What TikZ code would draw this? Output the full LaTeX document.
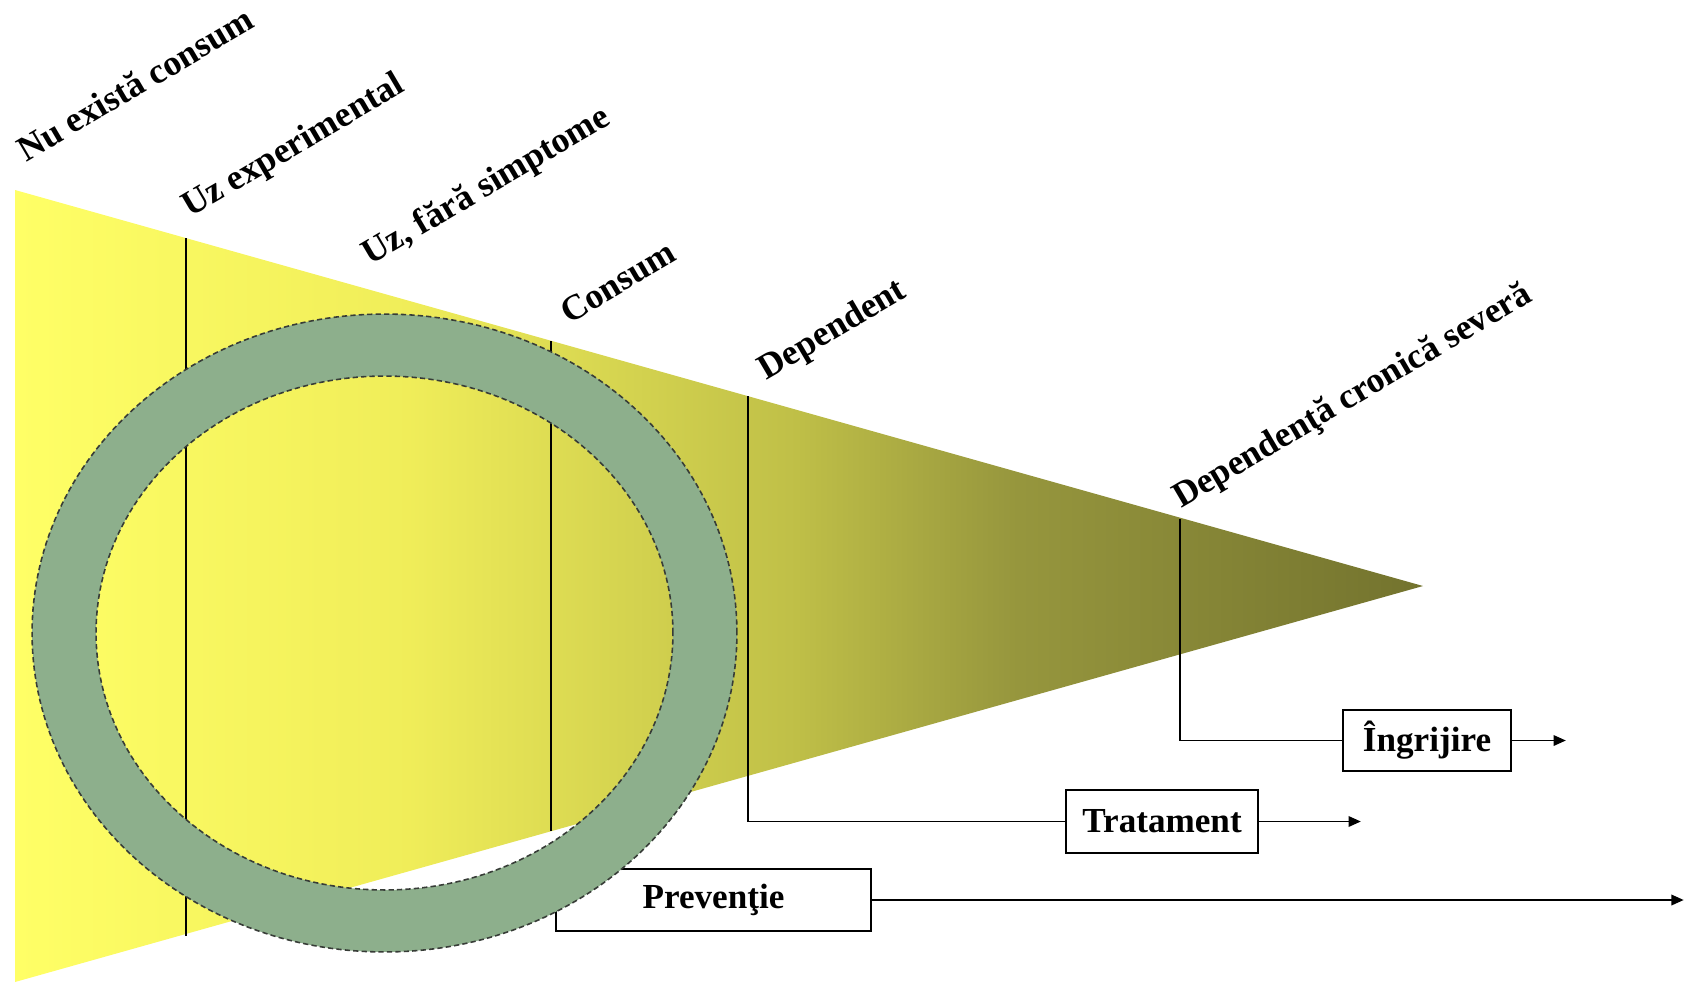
\documentclass[tikz,border=0pt]{standalone}
\usepackage{fontspec}
\setmainfont{Liberation Serif}
\usetikzlibrary{arrows.meta,positioning}

\definecolor{ringgreen}{RGB}{141,175,140}
\definecolor{ringedge}{RGB}{55,60,55}
\pgfdeclarehorizontalshading{stageshade}{100bp}{rgb(0bp)=(1,1,.40); rgb(25bp)=(1,1,.40); rgb(39bp)=(.94,.93,.35); rgb(52.7bp)=(.75,.75,.28); rgb(60.5bp)=(.59,.59,.24); rgb(75bp)=(.45,.45,.18); rgb(100bp)=(.45,.45,.18)}

\begin{document}
\begin{tikzpicture}[
x=0.02cm, y=-0.02cm,
box/.style={rectangle, draw=black, line width=1pt, fill=white, inner sep=0pt, font=\fontsize{20}{24}\selectfont\bfseries},
stage/.style={rotate=30.5, inner sep=0pt, font=\fontsize{20.3}{24}\selectfont\bfseries},
stageline/.style={draw=black, line width=0.9pt},
ring/.style={draw=ringedge, line width=0.9pt, dash pattern=on 3pt off 1.8pt},
flow/.style={draw=black, line width=1pt, -{Triangle[length=7pt, width=6pt]}},
]
\useasboundingbox (0,0) rectangle (1686,984);

%Triangle
\coordinate (wideTop) at (15,190);
\coordinate (tip) at (1423,586);
\coordinate (wideBottom) at (15,982);
\shade[shading=stageshade] (wideTop) -- (tip) -- (wideBottom) -- cycle;

%Stage lines
\coordinate (expTop) at (186,238);
\coordinate (expBottom) at (186,936);
\coordinate (conTop) at (551,341);
\coordinate (conBottom) at (551,831);
\coordinate (depTop) at (748,396);
\coordinate (sevTop) at (1180,519);
\draw[stageline] (expTop) -- (expBottom);
\draw[stageline] (conTop) -- (conBottom);

%Labels
\node[stage] (none) at (135,84) {Nu există consum};
\node[stage] (experimental) at (294,147) {Uz experimental};
\node[stage] (nosymptoms) at (487,187) {Uz, fără simptome};
\node[stage] (use) at (618,282) {Consum};
\node[stage] (dependent) at (833,331) {Dependent};
\node[stage] (severe) at (1353,397) {Dependenţă cronică severă};

%Boxes
\node[box, minimum width=6.3cm, minimum height=1.24cm] (preventie) at (713.5,900) {Prevenţie};
\node[box, minimum width=3.84cm, minimum height=1.26cm] (tratament) at (1162,821.5) {Tratament};
\node[box, minimum width=3.36cm, minimum height=1.22cm] (ingrijire) at (1427,740.5) {Îngrijire};
\coordinate[right=16.24cm of preventie] (prevEnd);
\coordinate[right=2.04cm of tratament] (tratEnd);
\coordinate[right=1.08cm of ingrijire] (ingEnd);

%Ring
\coordinate (ringc) at (384.5,633);
\path[fill=ringgreen, even odd rule] (ringc) ellipse [x radius=7.05cm, y radius=6.38cm] (ringc) ellipse [x radius=5.77cm, y radius=5.14cm];
\draw[ring] (ringc) ellipse [x radius=7.05cm, y radius=6.38cm];
\draw[ring] (ringc) ellipse [x radius=5.77cm, y radius=5.14cm];

%Lines
\draw[stageline] (depTop) |- (tratament.west);
\draw[stageline] (sevTop) |- (ingrijire.west);
\draw[flow] (preventie.east) -- (prevEnd);
\draw[flow] (tratament.east) -- (tratEnd);
\draw[flow] (ingrijire.east) -- (ingEnd);

\end{tikzpicture}
\end{document}
